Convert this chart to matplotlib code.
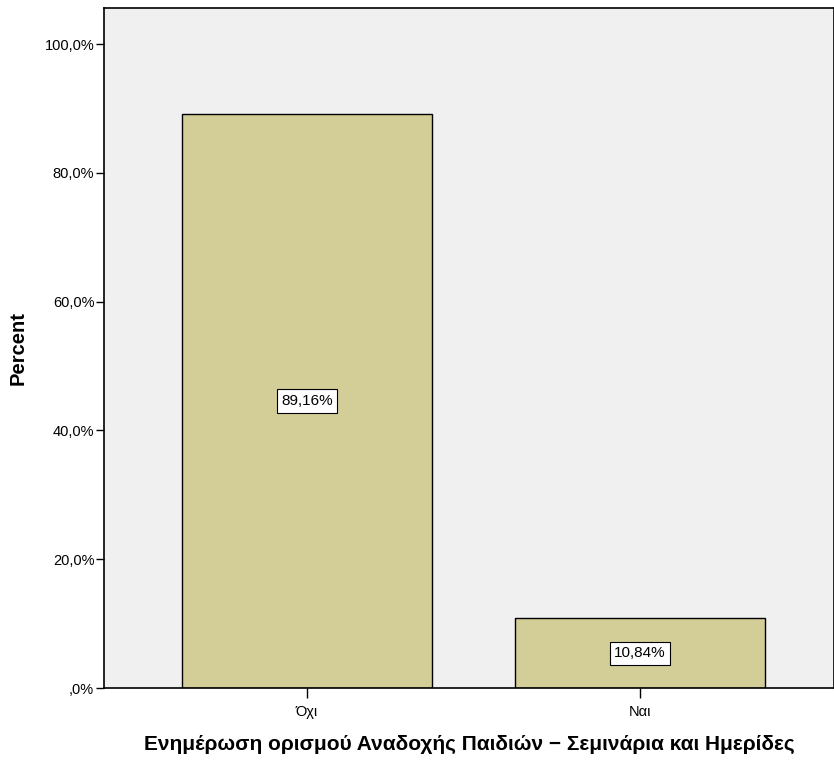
import matplotlib
matplotlib.use("Agg")
import matplotlib.pyplot as plt
from matplotlib.ticker import FuncFormatter

plt.rcParams['font.family'] = ['Liberation Sans', 'DejaVu Sans']

# data
categories = ['Όχι', 'Ναι']
percents = [89.16, 10.84]
bar_labels = ['89,16%', '10,84%']
yticks = [0, 20, 40, 60, 80, 100]

fig = plt.figure(figsize=(8.34, 7.64), dpi=100)
ax = fig.add_axes([104/834, 76/764, 730/834, 680/764])
ax.set_facecolor('#f0f0f0')

x = list(range(len(categories)))
ax.bar(x, percents, width=0.75, color='#d3ce97', edgecolor='black', linewidth=1, zorder=2)

for xi, p, lab in zip(x, percents, bar_labels):
    ax.text(xi, p / 2, lab, ha='center', va='center', fontsize=11, zorder=3,
            bbox=dict(boxstyle='square,pad=0.3', fc='white', ec='black', lw=0.8))

ax.set_xlim(-0.6096, 1.5826)
ax.set_ylim(0, 105.6)
ax.set_xticks(x)
ax.set_xticklabels(categories, fontsize=10.5)
ax.set_yticks(yticks)

def pct(v, pos):
    if v == 0:
        return ',0%'
    return ('%.1f%%' % v).replace('.', ',')

ax.yaxis.set_major_formatter(FuncFormatter(pct))
ax.tick_params(axis='y', direction='out', length=6, width=1, labelsize=10.5, pad=1)
ax.tick_params(axis='x', direction='out', length=7, width=1, labelsize=10.5, pad=5)

for s in ['left', 'bottom', 'top', 'right']:
    ax.spines[s].set_linewidth(1.2)

ax.set_ylabel('Percent', fontsize=14.5, fontweight='bold', labelpad=12)
ax.set_xlabel('Ενημέρωση ορισμού Αναδοχής Παιδιών − Σεμινάρια και Ημερίδες',
              fontsize=15, fontweight='bold', labelpad=12)

fig.savefig('out.png', dpi=100)
